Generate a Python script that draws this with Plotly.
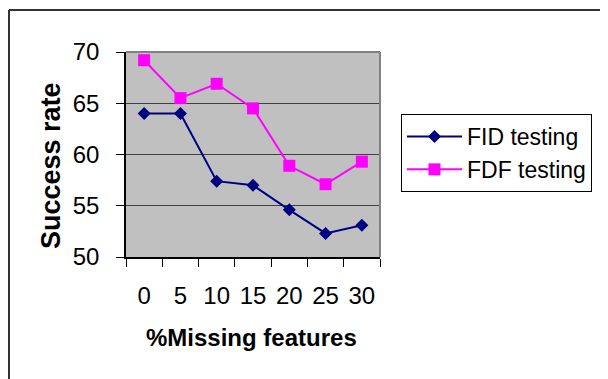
import plotly.graph_objects as go

categories = ["0", "5", "10", "15", "20", "25", "30"]
fid_values = [64.0, 64.0, 57.4, 57.0, 54.6, 52.3, 53.1]
fdf_values = [69.2, 65.5, 66.9, 64.5, 58.9, 57.1, 59.3]
y_ticks = [50, 55, 60, 65, 70]

# page body has an 8px margin, so figure coords = screen coords - 8
OFF = 8
W, H = 600, 371
# plot area on screen: x 126..380, y 52..257
L = 126 - OFF
T = 52 - OFF
R = W - (380 - OFF)
B = H - (257 - OFF)
pw = W - L - R
ph = H - T - B

def px(x):
    return (x - OFF - L) / pw

def py(y):
    return (H - B - (y - OFF)) / ph

FONT = "Arial, Liberation Sans, sans-serif"

fig = go.Figure()
fig.add_trace(go.Scatter(
    x=categories, y=fid_values, name="FID testing", mode="lines+markers",
    line=dict(color="#000080", width=2),
    marker=dict(symbol="diamond", size=10, color="#000080"),
))
fig.add_trace(go.Scatter(
    x=categories, y=fdf_values, name="FDF testing", mode="lines+markers",
    line=dict(color="#FF00FF", width=2),
    marker=dict(symbol="square", size=12, color="#FF00FF"),
))

fig.update_layout(
    width=W, height=H,
    margin=dict(l=L, r=R, t=T, b=B, pad=0, autoexpand=False),
    paper_bgcolor="white",
    plot_bgcolor="#C0C0C0",
    font=dict(family=FONT, color="black"),
    showlegend=True,
    legend=dict(
        x=px(401), y=py(114), xanchor="left", yanchor="top",
        bgcolor="white", bordercolor="black", borderwidth=1,
        font=dict(size=23, family=FONT, color="black"),
        itemwidth=55, tracegroupgap=0,
    ),
    xaxis=dict(
        type="category", tickson="boundaries",
        ticks="outside", ticklen=8, tickcolor="black", tickwidth=1,
        showline=True, linecolor="black", linewidth=1.5,
        showgrid=False, zeroline=False, tickangle=0, automargin=False,
        tickfont=dict(size=24, family=FONT, color="black"),
        ticklabelstandoff=16,
        range=[-0.5, 6.5],
    ),
    yaxis=dict(
        range=[50, 70], tickvals=y_ticks,
        ticks="outside", ticklen=8, tickcolor="black", tickwidth=1,
        showline=True, linecolor="black", linewidth=1.5,
        showgrid=True, gridcolor="#404040", gridwidth=1,
        zeroline=False, automargin=False,
        tickfont=dict(size=24, family=FONT, color="black"),
        ticklabelstandoff=12,
    ),
    shapes=[
        dict(type="line", xref="paper", yref="paper", x0=0, x1=1, y0=1, y1=1,
             line=dict(color="#808080", width=2)),
        dict(type="line", xref="paper", yref="paper", x0=1, x1=1, y0=0, y1=1,
             line=dict(color="#808080", width=2)),
        # outer chart border (top & left visible)
        dict(type="line", xref="paper", yref="paper", x0=px(9), x1=px(620), y0=py(10), y1=py(10),
             line=dict(color="#333333", width=2)),
        dict(type="line", xref="paper", yref="paper", x0=px(9), x1=px(9), y0=py(10), y1=py(390),
             line=dict(color="#333333", width=2)),
    ],
    annotations=[
        dict(text="<b>Success rate</b>", xref="paper", yref="paper",
             x=px(51), y=py(166), xanchor="center", yanchor="middle",
             textangle=-90, showarrow=False,
             font=dict(size=27, family=FONT, color="black")),
        dict(text="<b>%Missing features</b>", xref="paper", yref="paper",
             x=px(251), y=py(337), xanchor="center", yanchor="middle",
             showarrow=False,
             font=dict(size=24, family=FONT, color="black")),
    ],
)

fig.write_html("out.html")
